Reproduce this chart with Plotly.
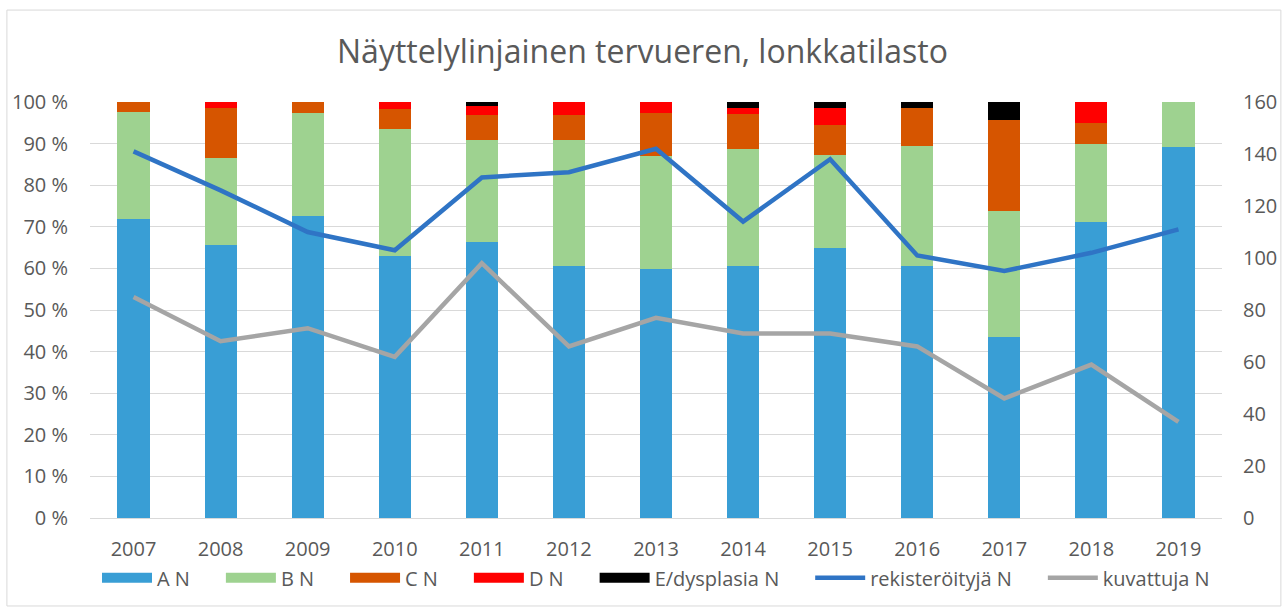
import plotly.graph_objects as go

years = ["2007", "2008", "2009", "2010", "2011", "2012", "2013",
         "2014", "2015", "2016", "2017", "2018", "2019"]
a_n = [61, 44, 53, 39, 65, 40, 46, 43, 46, 40, 20, 42, 33]
b_n = [22, 14, 18, 19, 24, 20, 21, 20, 16, 19, 14, 11, 4]
c_n = [2, 8, 2, 3, 6, 4, 8, 6, 5, 6, 10, 3, 0]
d_n = [0, 1, 0, 1, 2, 2, 2, 1, 3, 0, 0, 3, 0]
e_n = [0, 0, 0, 0, 1, 0, 0, 1, 1, 1, 2, 0, 0]
rekisteroityja = [141, 126, 110, 103, 131, 133, 142, 114, 138, 101, 95, 102, 111]
kuvattuja = [85, 68, 73, 62, 98, 66, 77, 71, 71, 66, 46, 59, 37]

bar_series = [
    ("A N", a_n, "#399ED5"),
    ("B N", b_n, "#9ED290"),
    ("C N", c_n, "#D65500"),
    ("D N", d_n, "#FF0000"),
    ("E/dysplasia N", e_n, "#000000"),
]

font_fam = "Open Sans, sans-serif"
grey = "#595959"
pad = "\u00a0" * 5

fig = go.Figure()
for name, vals, col in bar_series:
    fig.add_trace(go.Bar(x=years, y=vals, name=name, marker_color=col,
                         marker_line_width=0, showlegend=False))
# legend entries for bars drawn as wide rectangles (like the original)
for name, vals, col in bar_series:
    fig.add_trace(go.Scatter(x=[None], y=[None], name=name + pad, mode="lines",
                             line=dict(color=col, width=10)))

fig.add_trace(go.Scatter(x=years, y=rekisteroityja, name="rekisteröityjä N" + pad,
                         mode="lines", yaxis="y2",
                         line=dict(color="#2F74C5", width=4.5)))
fig.add_trace(go.Scatter(x=years, y=kuvattuja, name="kuvattuja N",
                         mode="lines", yaxis="y2",
                         line=dict(color="#A5A5A5", width=4.5)))

fig.update_layout(
    width=1285, height=612,
    paper_bgcolor="white", plot_bgcolor="white",
    barmode="stack", barnorm="percent", bargap=0.63,
    margin=dict(l=90, r=63, t=102, b=94, autoexpand=False),
    font=dict(family=font_fam, color=grey, size=20),
    title=dict(text="Näyttelylinjainen tervueren, lonkkatilasto",
               x=0.5, xanchor="center", y=0.916, yanchor="middle",
               font=dict(size=32, color=grey, family=font_fam)),
    showlegend=True,
    legend=dict(orientation="h", x=0.5, xanchor="center", y=-0.097,
                yanchor="top", font=dict(size=20, color=grey),
                traceorder="normal", itemwidth=50),
    xaxis=dict(showgrid=False, showline=True, linecolor="#D9D9D9",
               linewidth=1, ticks="", tickfont=dict(size=20, color=grey),
               ticklabelstandoff=13, automargin=False),
    yaxis=dict(range=[0, 100], tickvals=list(range(0, 101, 10)),
               ticktext=[f"{v} %" for v in range(0, 101, 10)],
               showgrid=True, gridcolor="#D9D9D9", gridwidth=1,
               zeroline=False, tickfont=dict(size=20, color=grey),
               ticks="", ticklabelstandoff=21, automargin=False),
    yaxis2=dict(range=[0, 160], tickvals=list(range(0, 161, 20)),
                overlaying="y", side="right", showgrid=False,
                zeroline=False, tickfont=dict(size=20, color=grey),
                ticklabelstandoff=20, automargin=False),
)

fig.add_shape(type="rect", xref="paper", yref="paper",
              x0=-0.0734, x1=1.052, y0=-0.2115, y1=1.221,
              line=dict(color="#D9D9D9", width=1), fillcolor="rgba(0,0,0,0)",
              layer="below")

fig.write_html("out.html", config={"displayModeBar": False},
               post_script="document.body.style.margin='0';")
